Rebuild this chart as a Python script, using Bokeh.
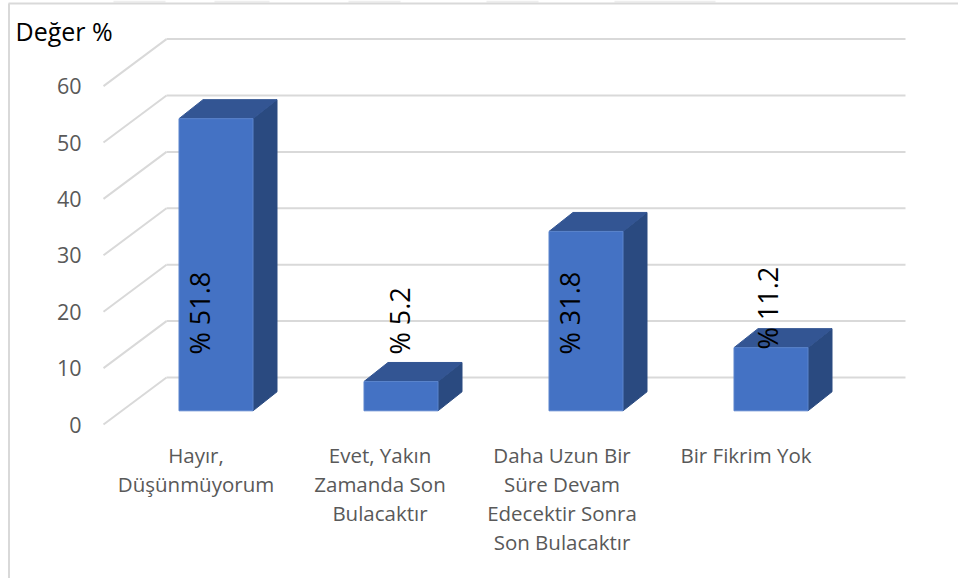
from bokeh.plotting import figure
from bokeh.models import Range1d, FixedTicker, LinearAxis
from bokeh.core.properties import value
from bokeh.embed import file_html
from bokeh.resources import INLINE

categories = ["Hayır,\nDüşünmüyorum", "Evet, Yakın\nZamanda Son\nBulacaktır",
              "Daha Uzun Bir\nSüre Devam\nEdecektir Sonra\nSon Bulacaktır", "Bir Fikrim Yok"]
values = [51.8, 5.2, 31.8, 11.2]
labels = ["% 51.8", "% 5.2", "% 31.8", "% 11.2"]
y_ticks = [0, 10, 20, 30, 40, 50, 60]

FONT = "Open Sans"
GRID = "#D9D9D9"
FRONT = "#4472C4"
TOP = "#335593"
SIDE = "#2A4A80"

PX_X = 185.0   # pixels per category
PX_Y = 5.64    # pixels per value unit
def dx(px): return px / PX_X
def dy(px): return px / PX_Y

W, H = 958, 578
x_start = -195.5 / PX_X
y_top = 424 / PX_Y
p = figure(width=W, height=H, output_backend="svg", toolbar_location=None,
           x_range=Range1d(x_start, x_start + W / PX_X),
           y_range=Range1d(y_top - H / PX_Y, y_top),
           x_axis_type=None, y_axis_type=None,
           min_border=0, outline_line_color=None)
p.grid.visible = False

# faint marks above the chart frame
strip_l = [113, 214, 348, 486, 614]
strip_r = [165, 269, 400, 538, 715]
p.quad(left=[x_start + dx(a) for a in strip_l], right=[x_start + dx(b) for b in strip_r],
       top=[y_top] * 5, bottom=[y_top - dy(2)] * 5, fill_color="#EEEEEE", line_color=None)

# chart-area frame
p.segment(x0=[x_start + dx(8.5)], y0=[y_top - dy(3)], x1=[x_start + dx(8.5)], y1=[y_top - dy(578)],
          line_color=GRID, line_width=2)
p.segment(x0=[x_start + dx(8)], y0=[y_top - dy(3)], x1=[x_start + W / PX_X], y1=[y_top - dy(3)],
          line_color=GRID, line_width=2)

# 3-D walls: diagonals from front to back, then horizontals along the back wall
WX, WY = dx(63), dy(47)
x_left = -92.5 / PX_X
x_right = x_left + dx(802)
p.segment(x0=[x_left] * len(y_ticks), y0=y_ticks,
          x1=[x_left + WX] * len(y_ticks), y1=[v + WY for v in y_ticks],
          line_color=GRID, line_width=2)
p.segment(x0=[x_left + WX] * len(y_ticks), y0=[v + WY for v in y_ticks],
          x1=[x_right] * len(y_ticks), y1=[v + WY for v in y_ticks],
          line_color=GRID, line_width=2)

# bars
SX, SY = dx(20), dy(13.7)   # front face offset from front plane
DX, DY = dx(24), dy(19)       # bar depth
HW = dx(37)
for i, v in enumerate(values):
    l, r = i + SX - HW, i + SX + HW
    b, t = SY, SY + v
    p.patch([r, r + DX, r + DX, r], [b, b + DY, t + DY, t], fill_color=SIDE, line_color=SIDE)
    p.patch([l, r, r + DX, l + DX], [t, t, t + DY, t + DY], fill_color=TOP, line_color=TOP)
    p.patch([l, r, r, l], [b, b, t, t], fill_color=FRONT, line_color="#5B84CC", line_width=1)

# data labels
LX = [199 - 195.5, 399 - 380.5, 569 - 565.5, 767 - 750.5]
LB = [424 - 354, 424 - 354, 424 - 354, 424 - 349]
p.text(x=[i + dx(LX[i]) for i in range(4)], y=[dy(LB[i]) for i in range(4)], text=labels,
       angle=1.5708, text_align="left", text_baseline="middle", text_color="#000000",
       text_font=value(FONT), text_font_size="27px")

# title
p.text(x=[x_start + dx(15)], y=[y_top - dy(30)], text=["Değer %"], text_align="left",
       text_baseline="middle", text_color="#000000", text_font=value(FONT), text_font_size="25px")

# value axis
yax = LinearAxis(ticker=FixedTicker(ticks=y_ticks), fixed_location=x_start + dx(87))
yax.axis_line_color = None
yax.major_tick_line_color = None
yax.minor_tick_line_color = None
yax.major_label_standoff = 0
yax.major_label_text_color = "#595959"
yax.major_label_text_font = FONT
yax.major_label_text_font_size = "21.5px"
p.add_layout(yax, "left")

# category axis
cat_ticks = [0, 1 - dx(1), 2 - dx(4), 3 - dx(5)]
xax = LinearAxis(ticker=FixedTicker(ticks=cat_ticks),
                 major_label_overrides={t: c for t, c in zip(cat_ticks, categories)},
                 fixed_location=-dy(10))
xax.axis_line_color = None
xax.major_tick_line_color = None
xax.minor_tick_line_color = None
xax.major_label_standoff = 0
xax.major_label_text_color = "#595959"
xax.major_label_text_font = FONT
xax.major_label_text_font_size = "20.5px"
xax.major_label_text_line_height = 1.04
p.add_layout(xax, "below")

open("out.html", "w").write(file_html(p, INLINE))
